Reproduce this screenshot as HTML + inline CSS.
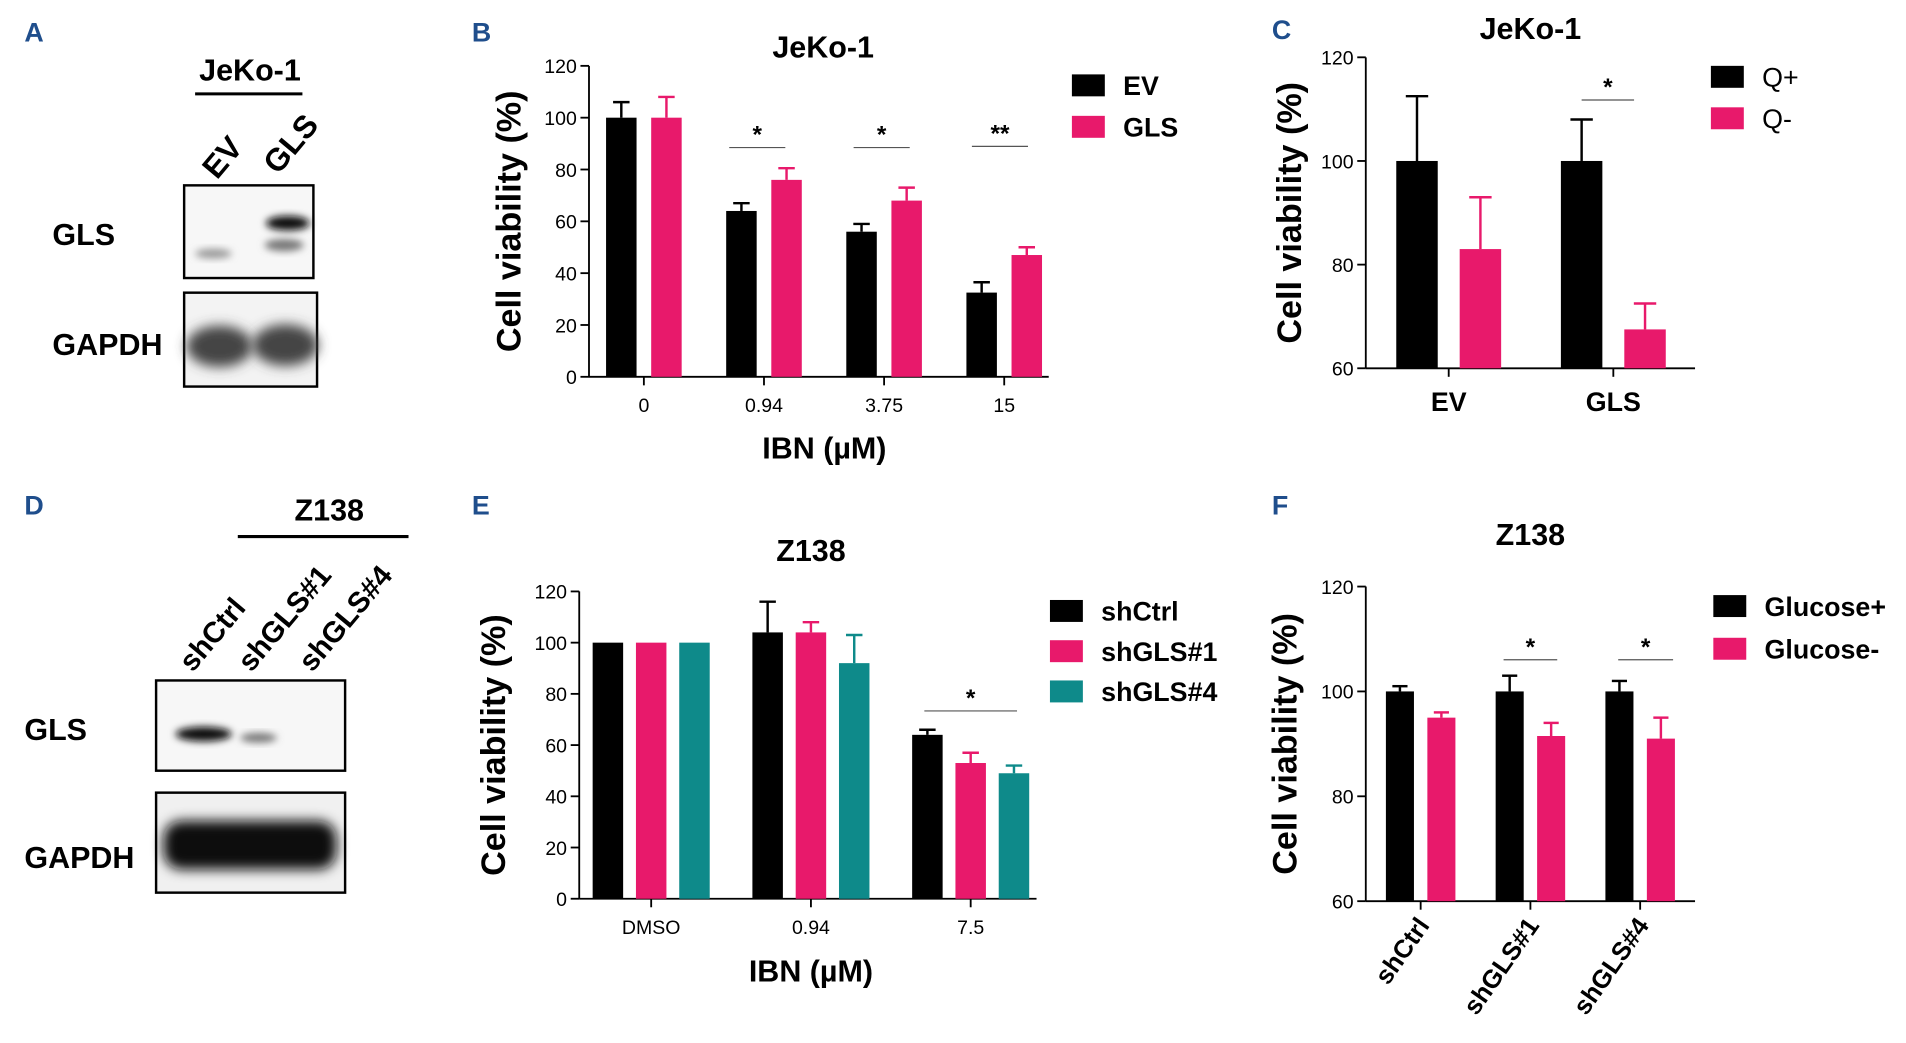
<!DOCTYPE html>
<html><head><meta charset="utf-8"><style>
html,body{margin:0;padding:0;background:#fff;}
svg{display:block;font-family:"Liberation Sans",Arial,sans-serif;}
</style></head><body>
<svg id="fig" width="1906" height="1043" viewBox="0 0 1563 855.3" xmlns="http://www.w3.org/2000/svg">
<defs>
<filter id="blur2" x="-30%" y="-50%" width="160%" height="200%"><feGaussianBlur stdDeviation="3"/></filter>
<filter id="blur4" x="-30%" y="-50%" width="160%" height="200%"><feGaussianBlur stdDeviation="5"/></filter>
</defs>
<g font-weight="bold" fill="#1f4e8c" font-size="22">
<text x="20" y="34">A</text><text x="387" y="34">B</text><text x="1043" y="32">C</text>
<text x="20" y="422">D</text><text x="387" y="422">E</text><text x="1043" y="422">F</text>
</g>
<g>
<text x="205" y="66" font-size="25" font-weight="bold" text-anchor="middle">JeKo-1</text>
<line x1="160" y1="77" x2="248" y2="77" stroke="#000" stroke-width="2.5"/>
<text transform="translate(178,148) rotate(-50)" font-size="26" font-weight="bold">EV</text>
<text transform="translate(228,144) rotate(-50)" font-size="26" font-weight="bold">GLS</text>
<text x="43" y="201" font-size="25" font-weight="bold">GLS</text>
<text x="43" y="291" font-size="25" font-weight="bold">GAPDH</text>
<rect x="151" y="152" width="106" height="76" fill="#f7f7f7" stroke="#000" stroke-width="2"/>
<ellipse cx="175" cy="208" rx="15" ry="4" fill="#999" filter="url(#blur2)"/>
<ellipse cx="236" cy="183" rx="18" ry="6" fill="#111" filter="url(#blur2)"/>
<ellipse cx="233" cy="201" rx="16" ry="5" fill="#777" filter="url(#blur2)"/>
<rect x="151" y="240" width="109" height="77" fill="#f3f3f3" stroke="#000" stroke-width="2"/>
<ellipse cx="180" cy="284" rx="27" ry="17" fill="#444" filter="url(#blur4)"/>
<ellipse cx="234" cy="283" rx="27" ry="17" fill="#444" filter="url(#blur4)"/>
</g>
<g>
<text x="270" y="427" font-size="25" font-weight="bold" text-anchor="middle">Z138</text>
<line x1="195" y1="440" x2="335" y2="440" stroke="#000" stroke-width="2.5"/>
<text transform="translate(158,552) rotate(-50)" font-size="24" font-weight="bold">shCtrl</text>
<text transform="translate(206,552) rotate(-50)" font-size="24" font-weight="bold">shGLS#1</text>
<text transform="translate(256,552) rotate(-50)" font-size="24" font-weight="bold">shGLS#4</text>
<text x="20" y="607" font-size="25" font-weight="bold">GLS</text>
<text x="20" y="712" font-size="25" font-weight="bold">GAPDH</text>
<rect x="128" y="558" width="155" height="74" fill="#f7f7f7" stroke="#000" stroke-width="2"/>
<ellipse cx="167" cy="602" rx="23" ry="6" fill="#111" filter="url(#blur2)"/>
<ellipse cx="212" cy="605" rx="15" ry="4" fill="#777" filter="url(#blur2)"/>
<rect x="128" y="650" width="155" height="82" fill="#f0f0f0" stroke="#000" stroke-width="2"/>
<rect x="134" y="673" width="142" height="40" rx="15" fill="#111" filter="url(#blur4)"/>
</g>
<g id="charts"></g>
</svg>
<script>
// Panel B data
const bCats = ["0","0.94","3.75","15"];
const bEV = [100, 64, 56, 32.5];
const bGLS = [100, 76, 68, 47];
const bEVerr = [6, 3, 3, 4];
const bGLSerr = [8, 4.5, 5, 3];
const bTicks = [0,20,40,60,80,100,120];
// Panel C data
const cCats = ["EV","GLS"];
const cQp = [100, 100];
const cQm = [83, 67.5];
const cQperr = [12.5, 8];
const cQmerr = [10, 5];
const cTicks = [60,80,100,120];
// Panel E data
const eCats = ["DMSO","0.94","7.5"];
const eCtrl = [100, 104, 64];
const eSh1 = [100, 104, 53];
const eSh4 = [100, 92, 49];
const eCtrlErr = [0, 12, 2];
const eSh1Err = [0, 4, 4];
const eSh4Err = [0, 11, 3];
const eTicks = [0,20,40,60,80,100,120];
// Panel F data
const fCats = ["shCtrl","shGLS#1","shGLS#4"];
const fGp = [100, 100, 100];
const fGm = [95, 91.5, 91];
const fGpErr = [1, 3, 2];
const fGmErr = [1, 2.5, 4];
const fTicks = [60,80,100,120];

const NS="http://www.w3.org/2000/svg";
const root=document.getElementById('charts');
const PINK="#e8196b", TEAL="#0e8a8a";
function mk(tag,attrs,parent,text){const e=document.createElementNS(NS,tag);for(const k in attrs)e.setAttribute(k,attrs[k]);if(text!==undefined)e.textContent=text;(parent||root).appendChild(e);return e;}

function chart(cfg){
  const g=mk('g',{});
  
  
  const y=v=>cfg.y0+(v-cfg.vmin)/(cfg.vmax-cfg.vmin)*(cfg.y1-cfg.y0);
  const t=mk('text',{x:cfg.titleX,y:cfg.titleY,'font-size':25,'font-weight':'bold','text-anchor':'middle'},g,cfg.title);
  
  
  const ya=mk('g',{},g);
  
  
  mk('line',{x1:cfg.xAxisStart,y1:cfg.y1,x2:cfg.xAxisStart,y2:cfg.y0,stroke:'#000','stroke-width':1.5},ya);
  cfg.ticks.forEach(v=>{
    mk('line',{x1:cfg.xAxisStart-7,y1:y(v),x2:cfg.xAxisStart,y2:y(v),stroke:'#000','stroke-width':1.5},ya);
    const tl=mk('text',{x:cfg.xAxisStart-10,y:y(v)+6,'font-size':16,'text-anchor':'end'},ya,String(v));
    
    
  });
  const yt=mk('text',{transform:`translate(${cfg.yTitleX},${(cfg.y0+cfg.y1)/2}) rotate(-90)`,'font-size':28,'font-weight':'bold','text-anchor':'middle'},g,'Cell viability (%)');
  
  
  const xa=mk('g',{},g);
  
  
  mk('line',{x1:cfg.xAxisStart,y1:cfg.y0,x2:cfg.xAxisEnd,y2:cfg.y0,stroke:'#000','stroke-width':1.5},xa);
  const ns=cfg.series.length;
  cfg.cats.forEach((c,i)=>{
    const cx=cfg.cx0+i*cfg.gap;
    mk('line',{x1:cx,y1:cfg.y0,x2:cx,y2:cfg.y0+7,stroke:'#000','stroke-width':1.5},xa);
    let lab;
    if(cfg.rotLabels){
      lab=mk('text',{transform:`translate(${cx+8},${cfg.y0+20}) rotate(-55)`,'font-size':21,'font-weight':'bold','text-anchor':'end'},xa,c);
    } else {
      lab=mk('text',{x:cx,y:cfg.y0+cfg.catDy,'font-size':cfg.catSize,'font-weight':cfg.catBold?'bold':'normal','text-anchor':'middle'},xa,c);
    }
    
    
    cfg.series.forEach((s,j)=>{
      const bx=cx+(j-(ns-1)/2)*cfg.step-cfg.bw/2;
      const v=s.vals[i], e=s.err[i];
      const r=mk('rect',{x:bx,y:y(v),width:cfg.bw,height:cfg.y0-y(v),fill:s.color},g);
      
      
      if(e>0){
        const mid=bx+cfg.bw/2, hw=cfg.bw*0.27;
        mk('line',{x1:mid,y1:y(v),x2:mid,y2:y(v+e),stroke:s.color,'stroke-width':2},g);
        mk('line',{x1:mid-hw,y1:y(v+e),x2:mid+hw,y2:y(v+e),stroke:s.color,'stroke-width':2},g);
      }
    });
  });
  if(cfg.xtitle){const xt=mk('text',{x:cfg.xtitleX,y:cfg.xtitleY,'font-size':25,'font-weight':'bold','text-anchor':'middle'},g,cfg.xtitle);
    
    }
  (cfg.sig||[]).forEach(s=>{
    const sg=mk('g',{},g);
    
    
    mk('line',{x1:s.x1,y1:s.y,x2:s.x2,y2:s.y,stroke:'#555','stroke-width':1},sg);
    mk('text',{x:(s.x1+s.x2)/2,y:s.y-4,'font-size':20,'font-weight':'bold','text-anchor':'middle'},sg,s.t);
  });
  const lg=mk('g',{},g);
  
  
  cfg.series.forEach((s,j)=>{
    const ly=cfg.legY+j*cfg.legStep;
    const le=mk('g',{},lg);
    
    
    mk('rect',{x:cfg.legX,y:ly-9,width:27,height:18,fill:s.color},le);
    mk('text',{x:cfg.legX+42,y:ly+8,'font-size':22,'font-weight':cfg.legBold?'bold':'normal'},le,s.label);
  });
}

chart({name:'chart-b',title:'JeKo-1',titleX:675,titleY:47,cats:bCats,y0:309,y1:54,vmin:0,vmax:120,ticks:bTicks,
  xAxisStart:483,xAxisEnd:860,cx0:528,gap:98.5,step:37,bw:25,yTitleX:427,catDy:29,catSize:16,
  xtitle:'IBN (µM)',xtitleX:676,xtitleY:376,
  series:[{key:'ev',label:'EV',vals:bEV,err:bEVerr,color:'#000'},{key:'gls',label:'GLS',vals:bGLS,err:bGLSerr,color:PINK}],
  sig:[{x1:598,x2:644,y:121,t:'*'},{x1:700,x2:746,y:121,t:'*'},{x1:797,x2:843,y:120,t:'**'}],
  legX:879,legY:70,legStep:34,legBold:true});
chart({name:'chart-c',title:'JeKo-1',titleX:1255,titleY:32,cats:cCats,y0:302,y1:47,vmin:60,vmax:120,ticks:cTicks,
  xAxisStart:1120,xAxisEnd:1390,cx0:1188,gap:135,step:52,bw:34,yTitleX:1067,catDy:35,catSize:22,catBold:true,
  series:[{key:'qplus',label:'Q+',vals:cQp,err:cQperr,color:'#000'},{key:'qminus',label:'Q-',vals:cQm,err:cQmerr,color:PINK}],
  sig:[{x1:1297,x2:1340,y:82,t:'*'}],
  legX:1403,legY:63,legStep:34,legBold:false});
chart({name:'chart-e',title:'Z138',titleX:665,titleY:460,cats:eCats,y0:737,y1:485,vmin:0,vmax:120,ticks:eTicks,
  xAxisStart:475,xAxisEnd:850,cx0:534,gap:131,step:35.5,bw:25,yTitleX:414,catDy:29,catSize:16,
  xtitle:'IBN (µM)',xtitleX:665,xtitleY:805,
  series:[{key:'shctrl',label:'shCtrl',vals:eCtrl,err:eCtrlErr,color:'#000'},{key:'shgls1',label:'shGLS#1',vals:eSh1,err:eSh1Err,color:PINK},{key:'shgls4',label:'shGLS#4',vals:eSh4,err:eSh4Err,color:TEAL}],
  sig:[{x1:758,x2:834,y:583,t:'*'}],
  legX:861,legY:501,legStep:33,legBold:true});
chart({name:'chart-f',title:'Z138',titleX:1255,titleY:447,cats:fCats,y0:739,y1:481,vmin:60,vmax:120,ticks:fTicks,
  xAxisStart:1120,xAxisEnd:1390,cx0:1165,gap:90,step:34,bw:23,yTitleX:1063,rotLabels:true,
  series:[{key:'glucplus',label:'Glucose+',vals:fGp,err:fGpErr,color:'#000'},{key:'glucminus',label:'Glucose-',vals:fGm,err:fGmErr,color:PINK}],
  sig:[{x1:1233,x2:1277,y:541,t:'*'},{x1:1327,x2:1372,y:541,t:'*'}],
  legX:1405,legY:497,legStep:35,legBold:true});
</script>
</body></html>
